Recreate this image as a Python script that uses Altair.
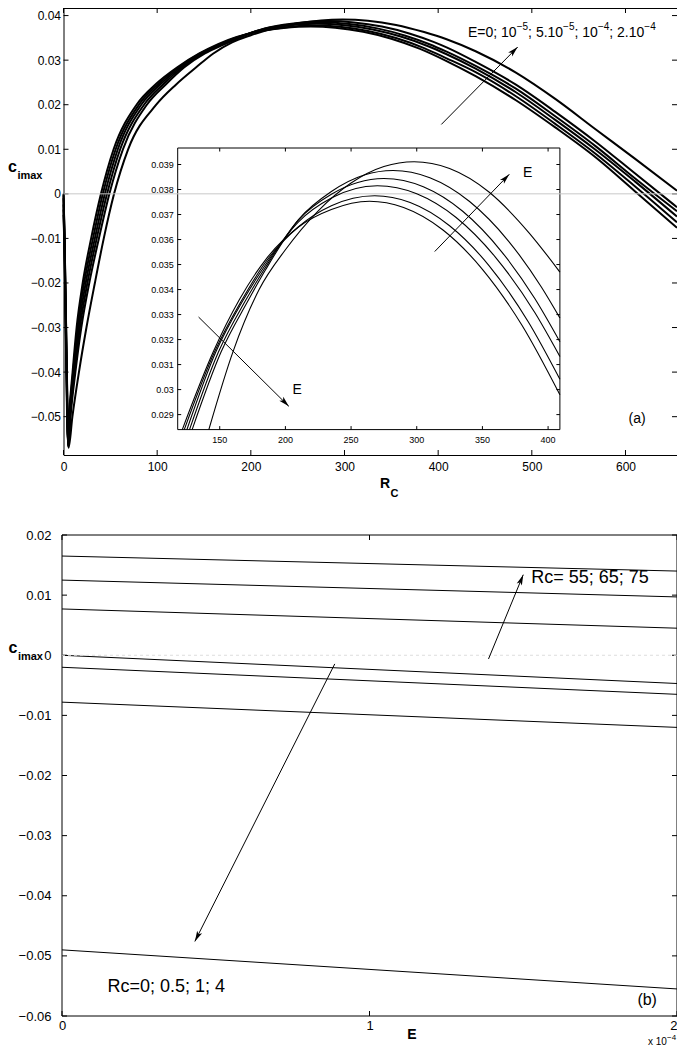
import altair as alt
import pandas as pd

FONT = "Liberation Sans"
TXT_FONT = "Liberation Sans, DejaVu Sans"

# ---------------- panel (a): c_imax versus R_C for six values of E ----------------
rc_1 = [0, 1, 4, 4.8, 6, 9.7, 14, 20.5, 29.5, 40, 53.5, 78, 99, 121.5, 145, 165, 185, 210, 235, 264,
        290, 320, 350, 380, 409, 440, 483, 525, 568, 610, 655]
c_1 = [0.0, -0.008, -0.045, -0.056, -0.050, -0.040, -0.030, -0.020, -0.010, 0.0,
       0.010, 0.020, 0.0247, 0.0284, 0.0315, 0.0336, 0.0352, 0.0365, 0.0372, 0.03753,
       0.03728, 0.03638, 0.03481, 0.03258, 0.02979, 0.0264, 0.0210, 0.0149, 0.0082, 0.0006, -0.0076]

rc_2 = [0, 1, 4, 4.9, 6.3, 10.3, 15, 22, 31.5, 42, 55.7, 80.5, 101.5, 123, 146, 166, 185, 210, 235, 268,
        295, 325, 355, 385, 409, 440, 483, 525, 568, 610, 655]
c_2 = [-0.0003, -0.0085, -0.046, -0.0562, -0.050, -0.040, -0.030, -0.020, -0.010, 0.0,
       0.010, 0.020, 0.0247, 0.0284, 0.0315, 0.0335, 0.0351, 0.03651, 0.03735, 0.03775,
       0.03748, 0.03655, 0.03496, 0.03270, 0.03041, 0.0273, 0.0219, 0.0157, 0.0090, 0.0017, -0.0064]

rc_3 = [0, 1, 4, 4.9, 6.6, 11, 16.2, 23.7, 33.5, 44.2, 58, 83, 104, 125, 147, 167, 185, 210, 235, 270,
        300, 330, 360, 390, 409, 440, 483, 525, 568, 610, 655]
c_3 = [-0.001, -0.0093, -0.047, -0.0564, -0.050, -0.040, -0.030, -0.020, -0.010, 0.0,
       0.010, 0.020, 0.0247, 0.0284, 0.0315, 0.0335, 0.0350, 0.03671, 0.03766, 0.03815,
       0.03783, 0.03688, 0.03529, 0.03307, 0.03132, 0.0281, 0.0228, 0.0166, 0.0099, 0.0028, -0.0051]

rc_4 = [0, 1, 4, 5, 7, 11.8, 17.5, 25.5, 35.5, 46.5, 60.5, 86, 107, 127, 149, 169, 185, 210, 235, 275,
        305, 335, 365, 390, 409, 440, 483, 525, 568, 610, 655]
c_4 = [-0.0024, -0.0105, -0.049, -0.0566, -0.050, -0.040, -0.030, -0.020, -0.010, 0.0,
       0.010, 0.020, 0.0247, 0.0284, 0.0315, 0.0335, 0.0349, 0.03679, 0.03781, 0.03844,
       0.03811, 0.03713, 0.03549, 0.03363, 0.03191, 0.0287, 0.0236, 0.0174, 0.0107, 0.0035, -0.0039]

rc_5 = [0, 1, 4, 5.1, 7.5, 12.7, 19, 27.5, 37.8, 49, 63.5, 89, 110, 129, 151, 171, 185, 210, 235, 260,
        282, 310, 340, 370, 395, 409, 440, 483, 525, 568, 610, 655]
c_5 = [-0.0035, -0.0112, -0.050, -0.0568, -0.050, -0.040, -0.030, -0.020, -0.010, 0.0,
       0.010, 0.020, 0.0247, 0.0284, 0.0315, 0.0335, 0.0348, 0.0368, 0.03792, 0.03858,
       0.03876, 0.03847, 0.03753, 0.03593, 0.03409, 0.03286, 0.0296, 0.0245, 0.0184, 0.0117, 0.0046, -0.0030]

rc_6 = [0, 1, 4, 5.4, 9.5, 16.5, 24.5, 33.5, 43, 54, 69, 99, 120, 141.7, 160, 180, 200, 225, 250, 275,
        298, 325, 355, 385, 409, 440, 483, 525, 568, 610, 655]
c_6 = [-0.0047, -0.012, -0.052, -0.057, -0.050, -0.040, -0.030, -0.020, -0.010, 0.0,
       0.010, 0.020, 0.0245, 0.0284, 0.0315, 0.0340, 0.03559, 0.03715, 0.03826, 0.03892,
       0.03911, 0.03884, 0.03790, 0.03630, 0.0347, 0.0320, 0.0272, 0.0213, 0.0145, 0.0079, 0.0007]

curves_rc = [rc_1, rc_2, rc_3, rc_4, rc_5, rc_6]
curves_c = [c_1, c_2, c_3, c_4, c_5, c_6]

a_xticks = [0, 100, 200, 300, 400, 500, 600]
a_yticks = [-0.05, -0.04, -0.03, -0.02, -0.01, 0, 0.01, 0.02, 0.03, 0.04]
a_xdomain = [0, 655]
a_ydomain = [-0.0586, 0.0417]

in_xdomain = [118, 409]
in_ydomain = [0.0284, 0.03966]
in_xticks = [150, 200, 250, 300, 350, 400]
in_xlabels = ["150", "200", "250", "300", "350", "400"]
in_yticks = [0.029, 0.030, 0.031, 0.032, 0.033, 0.034, 0.035, 0.036, 0.037, 0.038, 0.039]
in_ylabels = ["0.029", "0.03", "0.031", "0.032", "0.033", "0.034", "0.035", "0.036", "0.037", "0.038", "0.039"]

# legend "E=0; 10^-5; 5.10^-5; 10^-4; 2.10^-4" as base pieces and superscripts
legend_base = ["E=0; 10", "; 5.10", "; 10", "; 2.10"]
legend_sup = ["−5", "−5", "−4", "−4"]

# ---------------- panel (b): c_imax versus E for seven values of Rc ----------------
b_e = [0.0, 0.0002]
b_rc = ["75", "65", "55", "0", "0.5", "1", "4"]
b_c_start = [0.0165, 0.0125, 0.0077, 0.0000, -0.0020, -0.0078, -0.0490]
b_c_end = [0.0140, 0.0097, 0.0045, -0.0047, -0.0065, -0.0120, -0.0555]
b_xticks = [0, 0.0001, 0.0002]
b_yticks = [-0.06, -0.05, -0.04, -0.03, -0.02, -0.01, 0, 0.01, 0.02]
b_xdomain = [0, 0.0002]
b_ydomain = [-0.06, 0.02]
b_label_up = "Rc= 55; 65; 75"
b_label_down = "Rc=0; 0.5; 1; 4"

# ---------------- layout (pixels, relative to the top-left of panel (a)'s plot) ----------------
PAD_L = 55.5
VW, VH = 613.5, 447
IN_XR = [114.2, 496.4]
IN_YR = [421.6, 140.0]
B_XR = [-1.5, 613.5]
B_YR = [1008, 527]
ARROW = "M0,0L-0.5,1.9L0,1.45L0.5,1.9Z"
LEG_X = [404.5, 464.6, 511.0, 545.8]      # left edges of the legend pieces
SUP_X = [453.2, 499.6, 534.4, 580.8]      # left edges of the superscripts
LEG_BASE_Y, LEG_SUP_Y = 28.6, 22.0

xa = alt.Scale(domain=a_xdomain, nice=False, zero=False)
ya = alt.Scale(domain=a_ydomain, nice=False, zero=False)
xi = alt.Scale(domain=in_xdomain, range=IN_XR, nice=False, zero=False)
yi = alt.Scale(domain=in_ydomain, range=IN_YR, nice=False, zero=False)
xb = alt.Scale(domain=b_xdomain, range=B_XR, nice=False, zero=False)
yb = alt.Scale(domain=b_ydomain, range=B_YR, nice=False, zero=False)


def one(**kw):
    return pd.DataFrame([kw])


def inward_ticks(xvals, yvals, xs, ys, x0, x1, y0, y1, L):
    tx = pd.DataFrame({"v": xvals})
    ty = pd.DataFrame({"v": yvals})
    out = []
    for (p, q) in [(y0, y0 - L), (y1, y1 + L)]:
        out.append(alt.Chart(tx).mark_rule(color="black", strokeWidth=1).encode(
            x=alt.X("v:Q", scale=xs, axis=None), y=alt.value(p), y2=alt.value(q)))
    for (p, q) in [(x0, x0 + L), (x1, x1 - L)]:
        out.append(alt.Chart(ty).mark_rule(color="black", strokeWidth=1).encode(
            y=alt.Y("v:Q", scale=ys, axis=None), x=alt.value(p), x2=alt.value(q)))
    return out


def arrow(xs, ys, x_from, y_from, x_to, y_to, angle):
    seg = alt.Chart(one(x=x_from, y=y_from, x2=x_to, y2=y_to)).mark_rule(
        color="black", strokeWidth=1).encode(
        x=alt.X("x:Q", scale=xs, axis=None), y=alt.Y("y:Q", scale=ys, axis=None),
        x2="x2:Q", y2="y2:Q")
    head = alt.Chart(one(x=x_to, y=y_to)).mark_point(
        shape=ARROW, filled=True, size=125, angle=angle, color="black", opacity=1).encode(
        x=alt.X("x:Q", scale=xs, axis=None), y=alt.Y("y:Q", scale=ys, axis=None))
    return [seg, head]


def dtext(xs, ys, x, y, t, **kw):
    return alt.Chart(one(x=x, y=y, t=t)).mark_text(color="black", **kw).encode(
        x=alt.X("x:Q", scale=xs, axis=None), y=alt.Y("y:Q", scale=ys, axis=None), text="t:N")


def ptext(x, y, t, **kw):
    return alt.Chart(one(t=t)).mark_text(color="black", **kw).encode(
        x=alt.value(x), y=alt.value(y), text="t:N")


axis_common = dict(ticks=False, tickSize=0, domain=False, grid=False, labelFont=FONT,
                   labelColor="black", title=None, labelFlush=False, labelOverlap=False)

# ---------------- panel (a) ----------------
rows = []
for k, (rcs, cs) in enumerate(zip(curves_rc, curves_c), start=1):
    for r, c in zip(rcs, cs):
        rows.append({"curve": k, "rc": r, "c": c})
df_a = pd.DataFrame(rows)

lines_a = alt.Chart(df_a).mark_line(color="black", strokeWidth=2, interpolate="monotone").encode(
    x=alt.X("rc:Q", scale=xa, axis=alt.Axis(values=a_xticks, orient="bottom", labelFontSize=12,
                                             labelPadding=6, format="d", **axis_common)),
    y=alt.Y("c:Q", scale=ya, axis=alt.Axis(values=a_yticks, orient="left", labelFontSize=12,
                                            labelPadding=3, labelExpr="format(datum.value, '.2~f')",
                                            **axis_common)),
    detail="curve:N")

ticks_a = inward_ticks(a_xticks, a_yticks, xa, ya, 0, VW, VH, 0, 5)

inset_rect = alt.Chart(one(x0=in_xdomain[0], x1=in_xdomain[1], y0=in_ydomain[0], y1=in_ydomain[1])).mark_rect(
    fill="white", stroke="black", strokeWidth=1).encode(
    x=alt.X("x0:Q", scale=xi, axis=None), x2="x1:Q",
    y=alt.Y("y0:Q", scale=yi, axis=None), y2="y1:Q")

zero_line = alt.Chart(one(v=0)).mark_rule(color="#c8c8c8", strokeWidth=1).encode(
    y=alt.Y("v:Q", scale=ya, axis=None), x=alt.value(0), x2=alt.value(VW))

ticks_in = inward_ticks(in_xticks, in_yticks, xi, yi, IN_XR[0], IN_XR[1], IN_YR[0], IN_YR[1], 3.5)

in_xlab = alt.Chart(pd.DataFrame({"v": in_xticks, "t": in_xlabels})).mark_text(
    font=FONT, fontSize=9, color="black", baseline="middle").encode(
    x=alt.X("v:Q", scale=xi, axis=None), y=alt.value(IN_YR[0] + 10), text="t:N")
in_ylab = alt.Chart(pd.DataFrame({"v": in_yticks, "t": in_ylabels})).mark_text(
    font=FONT, fontSize=9, color="black", align="right", baseline="middle").encode(
    y=alt.Y("v:Q", scale=yi, axis=None), x=alt.value(IN_XR[0] - 4), text="t:N")

lines_in = alt.Chart(df_a).transform_filter(
    (alt.datum.c >= in_ydomain[0]) & (alt.datum.rc <= in_xdomain[1])
).mark_line(color="black", strokeWidth=1.1, interpolate="monotone").encode(
    x=alt.X("rc:Q", scale=xi, axis=None), y=alt.Y("c:Q", scale=yi, axis=None), detail="curve:N")

arrows_in = (arrow(xi, yi, 313.7, 0.03552, 370.5, 0.03861, 44)
             + arrow(xi, yi, 133.9, 0.0329, 202.6, 0.02933, 135))
texts_in = [dtext(xi, yi, 384.4, 0.03867, "E", font=FONT, fontSize=14, align="center", baseline="middle"),
            dtext(xi, yi, 208.9, 0.02998, "E", font=FONT, fontSize=14, align="center", baseline="middle")]

arrow_main = arrow(xa, ya, 403.4, 0.01557, 484.9, 0.03294, 45)
legend_a = ([ptext(x, LEG_BASE_Y, t, font=FONT, fontSize=14, align="left", baseline="alphabetic")
             for x, t in zip(LEG_X, legend_base)]
            + [ptext(x, LEG_SUP_Y, t, font=FONT, fontSize=10, align="left", baseline="alphabetic")
               for x, t in zip(SUP_X, legend_sup)])
tag_a = dtext(xa, ya, 612.4, -0.0505, "(a)", font=FONT, fontSize=14, align="center", baseline="middle")

labels_a = [
    ptext(-55.5, 164.4, "c", font=FONT, fontSize=16, fontWeight="bold", align="left", baseline="alphabetic"),
    ptext(-46.1, 171.3, "imax", font=FONT, fontSize=11, fontWeight="bold", align="left", baseline="alphabetic"),
    ptext(316.6, 480.3, "R", font=FONT, fontSize=14, fontWeight="bold", align="left", baseline="alphabetic"),
    ptext(327.1, 488.6, "C", font=FONT, fontSize=11, fontWeight="bold", align="left", baseline="alphabetic"),
]

# ---------------- panel (b) ----------------
rows_b = []
for name, c0, c1 in zip(b_rc, b_c_start, b_c_end):
    rows_b.append({"rc": name, "e": b_e[0], "c": c0})
    rows_b.append({"rc": name, "e": b_e[1], "c": c1})
df_b = pd.DataFrame(rows_b)

lines_b = alt.Chart(df_b).mark_line(color="black", strokeWidth=1).encode(
    x=alt.X("e:Q", scale=xb, axis=alt.Axis(
        values=b_xticks, orient="bottom", offset=B_YR[0] - VH, labelFontSize=13, labelPadding=3,
        labelAlign=alt.condition("datum.value > 0.00015", alt.value("right"), alt.value("center")),
        labelExpr="'' + round(datum.value * 10000)", **axis_common)),
    y=alt.Y("c:Q", scale=yb, axis=alt.Axis(values=b_yticks, orient="left", offset=-B_XR[0],
                                            labelFontSize=13, labelPadding=11,
                                            labelExpr="format(datum.value, '.2~f')", **axis_common)),
    detail="rc:N")

frame_b = alt.Chart(one(x0=b_xdomain[0], x1=b_xdomain[1], y0=b_ydomain[0], y1=b_ydomain[1])).mark_rect(
    fillOpacity=0, stroke="black", strokeWidth=1).encode(
    x=alt.X("x0:Q", scale=xb, axis=None), x2="x1:Q",
    y=alt.Y("y0:Q", scale=yb, axis=None), y2="y1:Q")

ticks_b = inward_ticks(b_xticks, b_yticks, xb, yb, B_XR[0], B_XR[1], B_YR[0], B_YR[1], 5)

zero_b = alt.Chart(one(v=0)).mark_rule(color="#dddddd", strokeWidth=1, strokeDash=[3, 3]).encode(
    y=alt.Y("v:Q", scale=yb, axis=None), x=alt.value(B_XR[0]), x2=alt.value(B_XR[1]))

arrows_b = (arrow(xb, yb, 0.0001387, -0.00062, 0.00015, 0.0134, 22)
            + arrow(xb, yb, 0.0000887, -0.00144, 0.0000432, -0.0476, 207))
texts_b = [dtext(xb, yb, 0.0001526, 0.0129, b_label_up, font=FONT, fontSize=18, align="left", baseline="middle"),
           dtext(xb, yb, 0.0000148, -0.0551, b_label_down, font=FONT, fontSize=18, align="left", baseline="middle"),
           dtext(xb, yb, 0.0001903, -0.0574, "(b)", font=FONT, fontSize=16, align="center", baseline="middle")]

labels_b = [
    ptext(-55, 645.3, "c", font=FONT, fontSize=16, fontWeight="bold", align="left", baseline="alphabetic"),
    ptext(-45.6, 652.2, "imax", font=FONT, fontSize=11, fontWeight="bold", align="left", baseline="alphabetic"),
    ptext(348.5, 1027, "E", font=FONT, fontSize=14, fontWeight="bold", align="center", baseline="middle"),
    ptext(584.5, 1036.5, "x 10", font=FONT, fontSize=10, align="left", baseline="alphabetic"),
    ptext(603.6, 1032.0, "−4", font=FONT, fontSize=8, align="left", baseline="alphabetic"),
]

chart = alt.layer(
    lines_a, *ticks_a, inset_rect, zero_line, *ticks_in, in_xlab, in_ylab, lines_in,
    *arrows_in, *texts_in, *arrow_main, *legend_a, tag_a, *labels_a,
    lines_b, frame_b, *ticks_b, zero_b, *arrows_b, *texts_b, *labels_b
).resolve_scale(x="independent", y="independent").properties(
    width=VW, height=VH,
    autosize=alt.AutoSizeParams(type="none"),
    padding={"left": PAD_L, "top": 0, "right": 0, "bottom": 592},
    background="white",
).configure_view(stroke="black", strokeWidth=1)

chart.save("out.html", embed_options={"renderer": "svg", "actions": False})
